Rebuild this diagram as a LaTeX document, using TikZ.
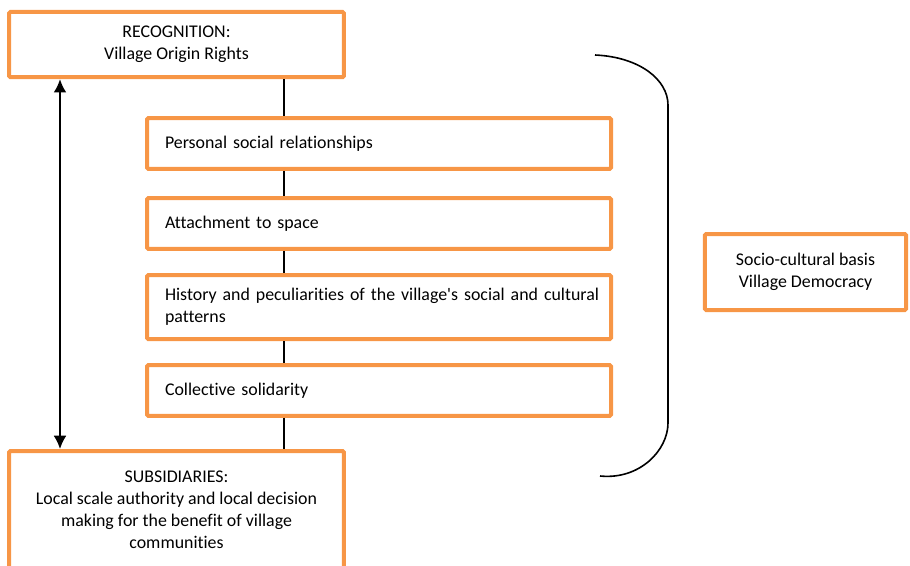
\documentclass[tikz,border=0pt]{standalone}
\usepackage{fontspec}
\setmainfont{Carlito}[Ligatures=NoCommon]
\usepackage{xcolor}
\usepackage{tikz}
\usetikzlibrary{arrows.meta,positioning}

\definecolor{boxorange}{HTML}{F79646}

\begin{document}
\begin{tikzpicture}[
    x=0.75pt, y=-0.75pt,
    base/.style={
        draw=boxorange,
        line width=3pt,
        rounded corners=1pt,
        inner sep=0pt,
        font=\fontsize{13.4}{16.6}\selectfont
    },
    outer/.style={
        base,
        align=center,
        minimum width=251pt
    },
    factor/.style={
        base,
        align=left,
        text width=321pt,
        inner xsep=13.5pt,
        minimum width=348pt
    },
    link/.style={
        line width=0.8pt
    },
    both/.style={
        {Latex[length=3.5mm,width=3.4mm]}-{Latex[length=3.5mm,width=3.4mm]},
        line width=1.5pt
    },
    brace/.style={
        line width=1.2pt
    }
]

\clip (0,0) rectangle (910,565);

%---------------------------------------------------------------------
% Outer boxes
%---------------------------------------------------------------------

\node[outer, minimum height=49pt] (recog) at (176.5,44.5) {
    RECOGNITION:\\
    Village Origin Rights
};

\node[outer, minimum height=88.5pt, anchor=north] (subsid) at (176.5,449) {
    SUBSIDIARIES:\\
    Local scale authority and local decision\\
    making for the benefit of village\\
    communities
};

%---------------------------------------------------------------------
% Socio-cultural factors
%---------------------------------------------------------------------

\node[factor, minimum height=38pt] (personal) at (379,143.5) {
    Personal social relationships
};

\node[factor, minimum height=38pt] (space) at (379,223.5) {
    Attachment to space
};

\node[factor, minimum height=48pt] (history) at (379,307) {
    \mbox{History and peculiarities of the village\textquotesingle s social and cultural}\\
    patterns
};

\node[factor, minimum height=38pt] (solidarity) at (379,390.5) {
    Collective solidarity
};

\node[base, align=center, minimum width=151pt, minimum height=57pt] (basis) at (805.5,272) {
    Socio-cultural basis\\
    Village Democracy
};

%---------------------------------------------------------------------
% Spine and two-way link
%---------------------------------------------------------------------

\coordinate (spine) at (284,0);
\coordinate (side) at (60,0);

\draw[link] (recog.south -| spine) -- (personal.north -| spine);
\draw[link] (personal.south -| spine) -- (space.north -| spine);
\draw[link] (space.south -| spine) -- (history.north -| spine);
\draw[link] (history.south -| spine) -- (solidarity.north -| spine);
\draw[link] (solidarity.south -| spine) -- (subsid.north -| spine);

\draw[both] (recog.south -| side) -- (subsid.north -| side);

%---------------------------------------------------------------------
% Bracket
%---------------------------------------------------------------------

\draw[brace] (595,55) .. controls (640,57) and (668,80) .. (668,105)
    -- (668,423) .. controls (668,450) and (640,480) .. (600,476);

\end{tikzpicture}
\end{document}
